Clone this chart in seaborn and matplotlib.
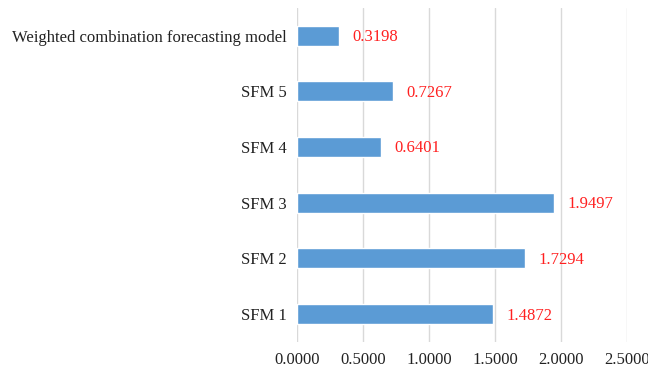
import matplotlib
matplotlib.use("Agg")
import matplotlib.pyplot as plt
import seaborn as sns
import pandas as pd

models = ["Weighted combination forecasting model", "SFM 5", "SFM 4", "SFM 3", "SFM 2", "SFM 1"]
errors = [0.3198, 0.7267, 0.6401, 1.9497, 1.7294, 1.4872]
x_ticks = [0.0, 0.5, 1.0, 1.5, 2.0, 2.5]

df = pd.DataFrame({"model": models, "error": errors})

sns.set_style("white")
plt.rcParams["font.family"] = ["Liberation Serif", "DejaVu Serif"]

fig = plt.figure(figsize=(6.48, 3.75), dpi=100)
ax = fig.add_axes([0.458, 0.088, 0.5096, 0.891])

sns.barplot(data=df, x="error", y="model", orient="h", color="#5B9BD5",
            width=0.36, saturation=1, ax=ax, zorder=3)

for i, v in enumerate(errors):
    ax.annotate(f"{v:.4f}", (v, i), xytext=(9.5, -1), textcoords="offset points",
                va="center", ha="left", color="#FF2020", fontsize=12)

ax.set_xlim(0, 2.5)
ax.set_xticks(x_ticks)
ax.set_xticklabels([f"{t:.4f}" for t in x_ticks])
ax.xaxis.grid(True, color="#D9D9D9", linewidth=1, zorder=0)
ax.set_axisbelow(True)
for s in ax.spines.values():
    s.set_visible(False)
ax.tick_params(axis="both", length=0, labelsize=12, labelcolor="#222222")
ax.tick_params(axis="y", pad=7)
ax.tick_params(axis="x", pad=7)
ax.set_xlabel("")
ax.set_ylabel("")

fig.savefig("out.png", dpi=100)
